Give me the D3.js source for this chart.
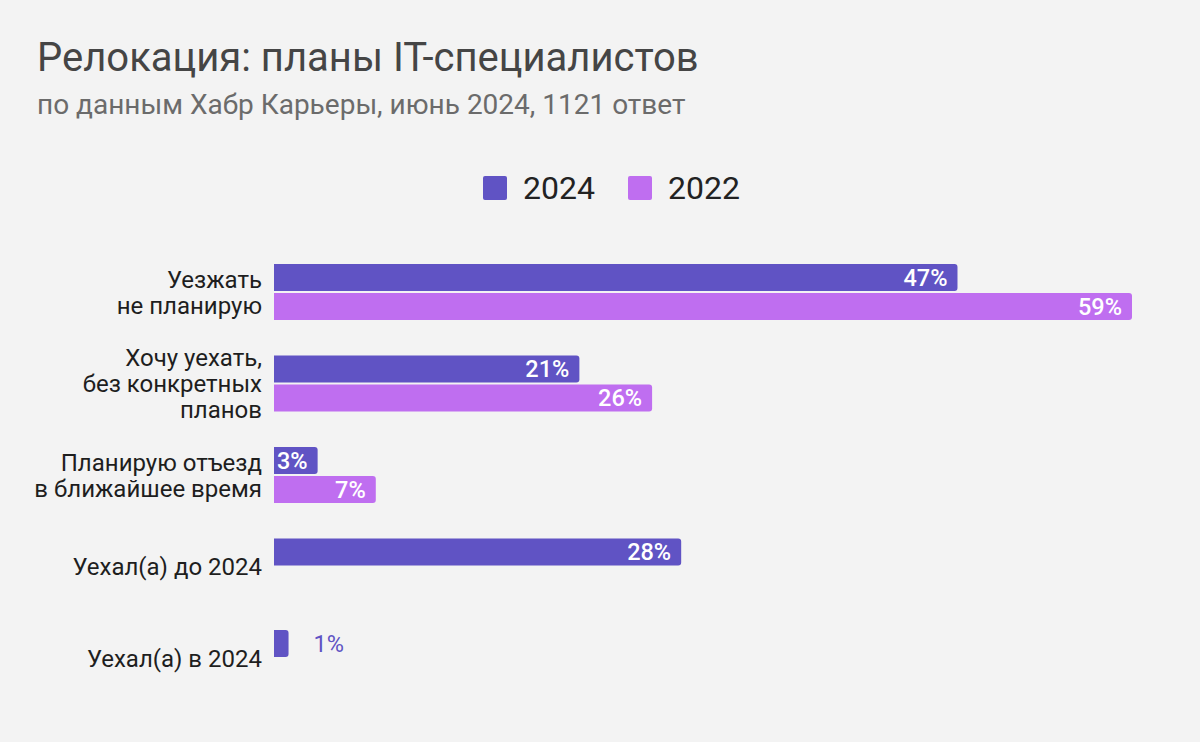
<!DOCTYPE html>
<html><head><meta charset="utf-8">
<script src="https://cdn.jsdelivr.net/npm/d3@7"></script>
<style>
html,body{margin:0;padding:0;background:#f3f3f3;}
svg{display:block;font-family:Roboto,"Noto Sans",sans-serif;}
</style></head>
<body>
<svg id="chart" width="1200" height="742"></svg>
<script>
const categories = [
  ["Уезжать", "не планирую"],
  ["Хочу уехать,", "без конкретных", "планов"],
  ["Планирую отъезд", "в ближайшее время"],
  ["Уехал(а) до 2024"],
  ["Уехал(а) в 2024"]
];
const seriesNames = ["2024", "2022"];
const values2024 = [47, 21, 3, 28, 1];
const values2022 = [59, 26, 7, null, null];
const colors = ["#6053c4", "#bf6ef0"];

const svg = d3.select("#chart");
svg.append("rect").attr("width",1200).attr("height",742).attr("fill","#f3f3f3");

svg.append("text").attr("x",37).attr("y",71).attr("font-size",40).attr("fill","#454545")
  .text("Релокация: планы IT-специалистов");
svg.append("text").attr("x",37).attr("y",114).attr("font-size",28).attr("fill","#6b6b6b")
  .text("по данным Хабр Карьеры, июнь 2024, 1121 ответ");

// legend
const legendX = [483, 628];
seriesNames.forEach((n,i)=>{
  svg.append("rect").attr("x",legendX[i]).attr("y",176).attr("width",24).attr("height",24)
    .attr("rx",2).attr("fill",colors[i]);
  svg.append("text").attr("x",legendX[i]+40).attr("y",199).attr("font-size",32).attr("fill","#222")
    .text(n);
});

const x = d3.scaleLinear().domain([0,59]).range([274,1132]);
const y = d3.scaleBand().domain(d3.range(categories.length)).range([264,264+91.5*5]).paddingInner(0).paddingOuter(0);
const sub = d3.scaleBand().domain([0,1]).range([0,56]).paddingInner(4/56);

const data = [];
categories.forEach((c,i)=>{
  [values2024[i], values2022[i]].forEach((v,s)=>{
    if (v!=null) data.push({i,s,v});
  });
});

function barPath(x0,y0,w,h,r){
  r = Math.min(r,w);
  return `M${x0},${y0}H${x0+w-r}A${r},${r} 0 0 1 ${x0+w},${y0+r}V${y0+h-r}A${r},${r} 0 0 1 ${x0+w-r},${y0+h}H${x0}Z`;
}

const g = svg.append("g");
data.forEach(d=>{
  const y0 = y(d.i)+sub(d.s);
  const w = x(d.v)-x(0);
  const h = sub.bandwidth();
  g.append("path").attr("d",barPath(x(0),y0,w,h,3)).attr("fill",colors[d.s]);
  const inside = w > 40;
  g.append("text")
    .attr("x", inside ? x(d.v)-10 : x(d.v)+25)
    .attr("y", y0+h/2)
    .attr("dy","0.36em")
    .attr("text-anchor", inside ? "end" : "start")
    .attr("font-size",23.5)
    .attr("font-weight", inside ? 500 : 400)
    .attr("fill", inside ? "#fff" : colors[d.s])
    .text(d.v+"%");
});

// category labels
const lh = 26;
categories.forEach((lines,i)=>{
  const cy = y(i)+28;
  const t = svg.append("text").attr("text-anchor","end").attr("font-size",24).attr("fill","#1e1e1e");
  lines.forEach((ln,k)=>{
    t.append("tspan").attr("x",262)
      .attr("y", cy + (k-(lines.length-1)/2)*lh)
      .attr("dy","0.36em").text(ln);
  });
});
</script>
</body></html>
